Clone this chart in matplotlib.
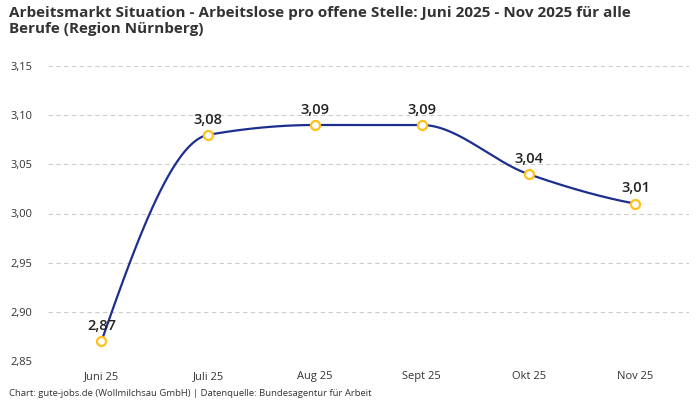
import numpy as np
import matplotlib
matplotlib.use("Agg")
import matplotlib.pyplot as plt

categories = ["Juni 25", "Juli 25", "Aug 25", "Sept 25", "Okt 25", "Nov 25"]
values = [2.87, 3.08, 3.09, 3.09, 3.04, 3.01]
y_ticks = [2.85, 2.90, 2.95, 3.00, 3.05, 3.10, 3.15]

plt.rcParams['font.family'] = ['Open Sans', 'DejaVu Sans']

def pchip(x, y, xs):
    x = np.asarray(x, float); y = np.asarray(y, float)
    h = np.diff(x); d = np.diff(y) / h
    n = len(x)
    m = np.zeros(n)
    for k in range(1, n - 1):
        if d[k - 1] * d[k] <= 0:
            m[k] = 0
        else:
            w1 = 2 * h[k] + h[k - 1]; w2 = h[k] + 2 * h[k - 1]
            m[k] = (w1 + w2) / (w1 / d[k - 1] + w2 / d[k])
    def end(h0, h1, d0, d1):
        s = ((2 * h0 + h1) * d0 - h0 * d1) / (h0 + h1)
        if np.sign(s) != np.sign(d0):
            s = 0
        elif np.sign(d0) != np.sign(d1) and abs(s) > abs(3 * d0):
            s = 3 * d0
        return s
    m[0] = end(h[0], h[1], d[0], d[1])
    m[-1] = end(h[-1], h[-2], d[-1], d[-2])
    out = np.empty_like(xs)
    for i, xv in enumerate(xs):
        k = min(np.searchsorted(x, xv, side='right') - 1, n - 2)
        k = max(k, 0)
        t = (xv - x[k]) / h[k]
        h00 = 2 * t**3 - 3 * t**2 + 1
        h10 = t**3 - 2 * t**2 + t
        h01 = -2 * t**3 + 3 * t**2
        h11 = t**3 - t**2
        out[i] = h00 * y[k] + h10 * h[k] * m[k] + h01 * y[k + 1] + h11 * h[k] * m[k + 1]
    return out

fig = plt.figure(figsize=(7, 4), dpi=100)
ax = fig.add_axes([0.0686, 0.0975, 0.9154, 0.7375])

x = np.arange(len(categories))
xs = np.linspace(0, len(categories) - 1, 400)
ax.plot(xs, pchip(x, values, xs), color='#1c2f8f', lw=1.6, zorder=3)
ax.plot(x, values, 'o', ms=6.5, mfc='white', mec='#ffc21a', mew=1.6, zorder=4)

for xi, v in zip(x, values):
    ax.annotate(f"{v:.2f}".replace('.', ','), (xi, v), xytext=(0, 6),
                textcoords='offset points', ha='center', va='bottom',
                fontsize=10.5, fontweight='semibold', color='#222222', zorder=5)

ax.set_xlim(-0.5, len(categories) - 0.5)
ax.set_ylim(2.85, 3.15)
ax.set_yticks(y_ticks)
ax.set_yticklabels([f"{t:.2f}".replace('.', ',') for t in y_ticks])
ax.set_xticks(x)
ax.set_xticklabels(categories)
ax.tick_params(axis='both', length=0, labelsize=8, colors='#333333')
ax.tick_params(axis='x', pad=7)
ax.tick_params(axis='y', pad=11)
ax.grid(axis='y', color='#cccccc', ls=(0, (4, 3)), lw=0.8)
for s in ax.spines.values():
    s.set_visible(False)

fig.text(0.013, 0.985, "Arbeitsmarkt Situation - Arbeitslose pro offene Stelle: Juni 2025 - Nov 2025 für alle\nBerufe (Region Nürnberg)",
         ha='left', va='top', fontsize=11, fontweight='bold', color='#333333', linespacing=1.2)
fig.text(0.013, 0.0175, "Chart: gute-jobs.de (Wollmilchsau GmbH) | Datenquelle: Bundesagentur für Arbeit",
         ha='left', va='center', fontsize=6.8, color='#333333')

fig.savefig("out.png", dpi=100)
